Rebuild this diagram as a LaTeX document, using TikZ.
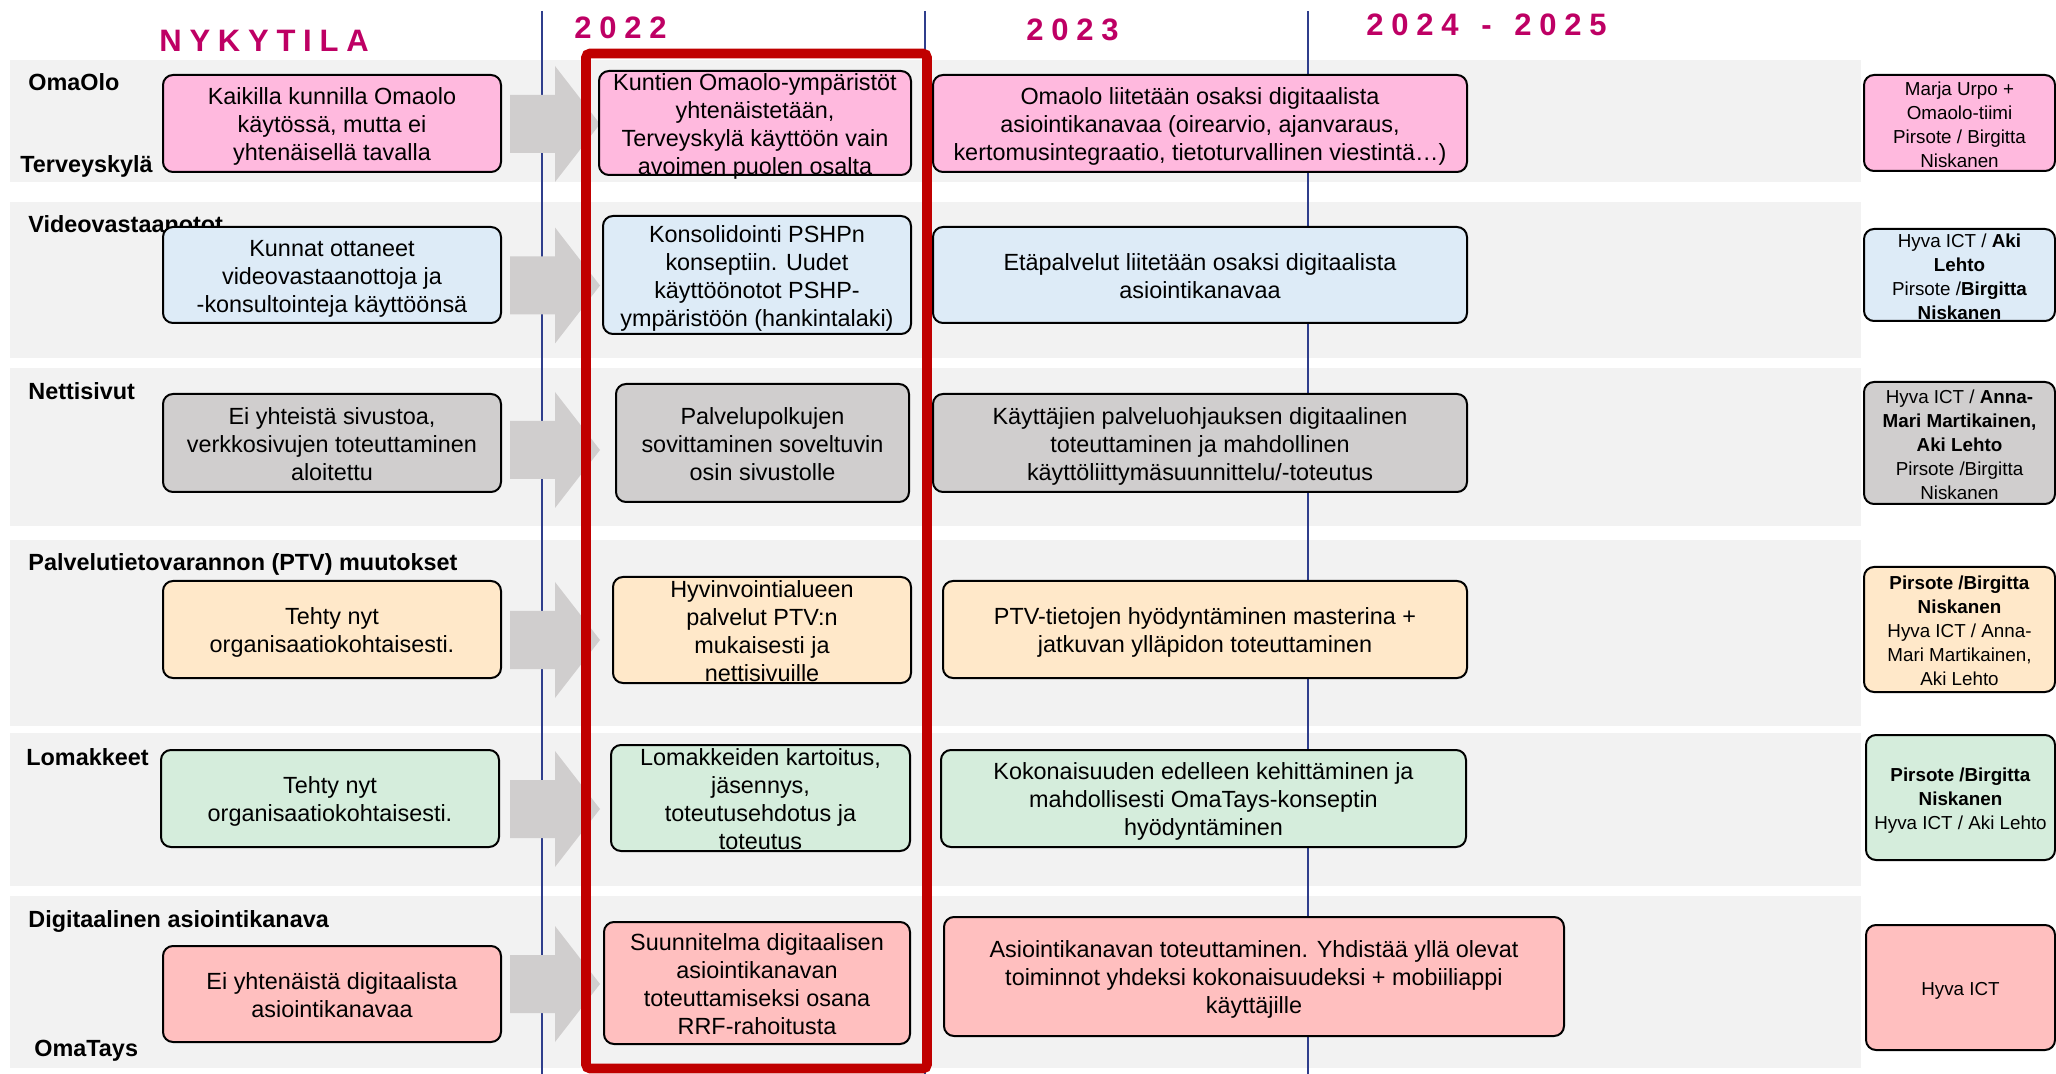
\documentclass[tikz,border=0pt]{standalone}
\usepackage{fontspec}
\setmainfont{Liberation Sans}
\definecolor{hdr}{RGB}{190,0,100}
\definecolor{band}{RGB}{242,242,242}
\definecolor{arrowgray}{RGB}{208,206,206}
\definecolor{lineblue}{RGB}{47,62,140}
\definecolor{framered}{RGB}{192,0,0}
\definecolor{pinkbox}{RGB}{255,185,222}
\definecolor{bluebox}{RGB}{221,235,247}
\definecolor{graybox}{RGB}{208,206,206}
\definecolor{peachbox}{RGB}{255,232,201}
\definecolor{greenbox}{RGB}{213,237,220}
\definecolor{redbox}{RGB}{255,191,191}
% text of a box, centred and not changing its size
\newcommand\btxt[1]{\smash{\raisebox{-0.42em}{\begin{tabular}{@{}c@{}}#1\end{tabular}}}}
\begin{document}
\begin{tikzpicture}[x=0.5pt,y=-0.5pt,
  box/.style={draw=black,line width=1pt,rounded corners=5pt,inner sep=0pt,font=\fontsize{11.7}{14}\selectfont},
  whobox/.style={box,font=\fontsize{9.4}{12}\selectfont},
  wh/.style 2 args={minimum width=#1*0.5pt,minimum height=#2*0.5pt},
  rowlbl/.style={anchor=base west,inner sep=0pt,font=\fontsize{11.7}{14}\selectfont\bfseries},
  year/.style={anchor=base west,inner sep=0pt,text=hdr,font=\fontsize{15.5}{18}\selectfont\bfseries\addfontfeature{LetterSpace=25}}]
  \useasboundingbox (0,0) rectangle (2056,1074);
  \clip (0,0) rectangle (2056,1074);
  % rows
  \foreach \ya/\yb in {60/182,202/358,368/526,540/726,733/886,896/1068}
    \fill[band] (10,\ya) rectangle (1861,\yb);
  \node[year] (hdr-now) at (159,52) {NYKYTILA};
  \node[year] (hdr-2022) at (574,39) {2022};
  \node[year] (hdr-2023) at (1026,41) {2023};
  \node[year] (hdr-2024) at (1366,36) {2024\hspace{3.2pt} - \hspace{3.2pt}2025};
  \node[rowlbl] (lbl-omaolo) at (28,91) {OmaOlo};
  \node[rowlbl] (lbl-terveys) at (20,173) {Terveyskylä};
  \node[rowlbl] (lbl-video) at (28,233) {Videovastaanotot};
  \node[rowlbl] (lbl-netti) at (28,400) {Nettisivut};
  \node[rowlbl] (lbl-ptv) at (28,571) {Palvelutietovarannon (PTV) muutokset};
  \node[rowlbl] (lbl-lomak) at (26,765) {Lomakkeet};
  \node[rowlbl] (lbl-digi) at (28,927) {Digitaalinen asiointikanava};
  \node[rowlbl] (lbl-omatays) at (34,1056) {OmaTays};
  % year lines
  \foreach \xl in {542,925,1308}
    \draw[lineblue,line width=0.6pt] (\xl,11) -- (\xl,1074);
  % block arrows
  \foreach \yc in {124,285.5,450,640,809,984}
    \fill[arrowgray] (510,\yc-29) -- (555,\yc-29) -- (555,\yc-58) -- (600,\yc)
      -- (555,\yc+58) -- (555,\yc+29) -- (510,\yc+29) -- cycle;
  \draw[framered,line width=4.8pt,rounded corners=2pt] (586,53.5) rectangle (927,1068.5);

  \node[box,fill=pinkbox,wh={338}{97}] (omaolo-now) at (332,123.5)
    {\btxt{Kaikilla kunnilla Omaolo\\käytössä, mutta ei\\yhtenäisellä tavalla}};
  \node[box,fill=pinkbox,wh={312}{104}] (omaolo-2022) at (755,123)
    {\btxt{Kuntien Omaolo-ympäristöt\\yhtenäistetään,\\Terveyskylä käyttöön vain\\avoimen puolen osalta}};
  \node[box,fill=pinkbox,wh={534}{97}] (omaolo-2023) at (1200,123.5)
    {\btxt{Omaolo liitetään osaksi digitaalista\\asiointikanavaa (oirearvio, ajanvaraus,\\kertomusintegraatio, tietoturvallinen viestintä…)}};
  \node[whobox,fill=pinkbox,wh={191}{96}] (omaolo-who) at (1959.5,123)
    {\btxt{Marja Urpo +\\Omaolo-tiimi\\Pirsote / Birgitta\\Niskanen}};

  \node[box,fill=bluebox,wh={338}{96}] (video-now) at (332,275)
    {\btxt{Kunnat ottaneet\\videovastaanottoja ja\\-konsultointeja käyttöönsä}};
  \node[box,fill=bluebox,wh={308}{118}] (video-2022) at (757,275)
    {\btxt{Konsolidointi PSHPn\\konseptiin. Uudet\\käyttöönotot PSHP-\\ympäristöön (hankintalaki)}};
  \node[box,fill=bluebox,wh={534}{96}] (video-2023) at (1200,275)
    {\btxt{Etäpalvelut liitetään osaksi digitaalista\\asiointikanavaa}};
  \node[whobox,fill=bluebox,wh={191}{92}] (video-who) at (1959.5,275)
    {\btxt{Hyva ICT / \textbf{Aki}\\\textbf{Lehto}\\Pirsote /\textbf{Birgitta}\\\textbf{Niskanen}}};

  \node[box,fill=graybox,wh={338}{98}] (netti-now) at (332,443)
    {\btxt{Ei yhteistä sivustoa,\\verkkosivujen toteuttaminen\\aloitettu}};
  \node[box,fill=graybox,wh={293}{118}] (netti-2022) at (762.5,443)
    {\btxt{Palvelupolkujen\\sovittaminen soveltuvin\\osin sivustolle}};
  \node[box,fill=graybox,wh={534}{98}] (netti-2023) at (1200,443)
    {\btxt{Käyttäjien palveluohjauksen digitaalinen\\toteuttaminen ja mahdollinen\\käyttöliittymäsuunnittelu/-toteutus}};
  \node[whobox,fill=graybox,wh={191}{122}] (netti-who) at (1959.5,443)
    {\btxt{Hyva ICT / \textbf{Anna-}\\\textbf{Mari Martikainen,}\\\textbf{Aki Lehto}\\Pirsote /Birgitta\\Niskanen}};

  \node[box,fill=peachbox,wh={338}{97}] (ptv-now) at (332,629.5)
    {\btxt{Tehty nyt\\organisaatiokohtaisesti.}};
  \node[box,fill=peachbox,wh={298}{106}] (ptv-2022) at (762,630)
    {\btxt{Hyvinvointialueen\\palvelut PTV:n\\mukaisesti ja\\nettisivuille}};
  \node[box,fill=peachbox,wh={524}{97}] (ptv-2023) at (1205,629.5)
    {\btxt{PTV-tietojen hyödyntäminen masterina +\\jatkuvan ylläpidon toteuttaminen}};
  \node[whobox,fill=peachbox,wh={191}{125}] (ptv-who) at (1959.5,629.5)
    {\btxt{\textbf{Pirsote /Birgitta}\\\textbf{Niskanen}\\Hyva ICT / Anna-\\Mari Martikainen,\\Aki Lehto}};

  \node[box,fill=greenbox,wh={338}{97}] (lomak-now) at (330,798.5)
    {\btxt{Tehty nyt\\organisaatiokohtaisesti.}};
  \node[box,fill=greenbox,wh={299}{106}] (lomak-2022) at (760.5,798)
    {\btxt{Lomakkeiden kartoitus,\\jäsennys,\\toteutusehdotus ja\\toteutus}};
  \node[box,fill=greenbox,wh={525}{97}] (lomak-2023) at (1203.5,798.5)
    {\btxt{Kokonaisuuden edelleen kehittäminen ja\\mahdollisesti OmaTays-konseptin\\hyödyntäminen}};
  \node[whobox,fill=greenbox,wh={189}{125}] (lomak-who) at (1960.5,797.5)
    {\btxt{\textbf{Pirsote /Birgitta}\\\textbf{Niskanen}\\Hyva ICT / Aki Lehto}};

  \node[box,fill=redbox,wh={338}{96}] (digi-now) at (332,994)
    {\btxt{Ei yhtenäistä digitaalista\\asiointikanavaa}};
  \node[box,fill=redbox,wh={306}{122}] (digi-2022) at (757,983)
    {\btxt{Suunnitelma digitaalisen\\asiointikanavan\\toteuttamiseksi osana\\RRF-rahoitusta}};
  \node[box,fill=redbox,wh={620}{119}] (digi-2023) at (1254,976.5)
    {\btxt{Asiointikanavan toteuttaminen. Yhdistää yllä olevat\\toiminnot yhdeksi kokonaisuudeksi + mobiiliappi\\käyttäjille}};
  \node[whobox,fill=redbox,wh={189}{125}] (digi-who) at (1960.5,987.5)
    {\btxt{Hyva ICT}};
\end{tikzpicture}
\end{document}
